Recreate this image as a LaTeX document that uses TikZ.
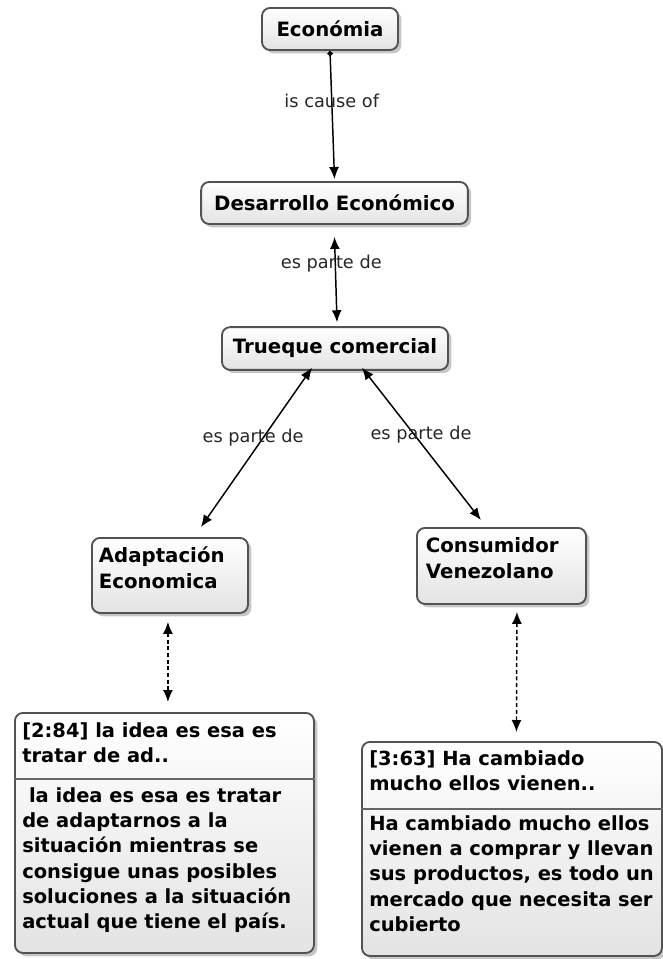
\documentclass[tikz,border=0pt]{standalone}
\usepackage{fontspec}
\setmainfont{DejaVu Sans}
\usetikzlibrary{arrows.meta, shadows}

\begin{document}
\begin{tikzpicture}[x=0.75pt,y=-0.75pt]
  \tikzstyle{concept}=[draw=black!68, line width=1.4pt, rounded corners=6pt,
    top color=white, bottom color=black!11,
    drop shadow={shadow xshift=2.5pt, shadow yshift=-2.5pt, opacity=0.45},
    font=\bfseries\fontsize{14.8}{19}\selectfont]
  \tikzstyle{txt}=[inner sep=0pt, anchor=north west, align=left,
    font=\bfseries\fontsize{14.6}{19}\selectfont]
  \tikzstyle{lbl}=[inner sep=1pt, text=black!85, font=\fontsize{13.3}{16}\selectfont]
  \tikzstyle{link}=[line width=1.1pt, {Latex[length=9pt,width=7.5pt]}-{Latex[length=9pt,width=7.5pt]}]
  \tikzstyle{note}=[link, dash pattern=on 3pt off 2pt]
  \tikzstyle{divider}=[line width=2pt, draw=black!60]

  \useasboundingbox (0,0) rectangle (663,959);

  \node[concept, minimum width=102pt, minimum height=31.5pt]   (economia)   at (330,29)    {Económia};
  \node[concept, minimum width=200pt, minimum height=31.5pt]   (desarrollo) at (334.5,203) {Desarrollo Económico};
  \node[concept, minimum width=169.5pt, minimum height=32pt]   (trueque)    at (335,348.5) {Trueque comercial};
  \node[concept, anchor=north west, align=left, inner xsep=5.25pt, inner ysep=0pt,
        text width=106.5pt, text height=18.75pt, text depth=37.5pt]
                                                                (adaptacion) at (91,537)    {Adaptación\\Economica};
  \node[concept, anchor=north west, align=left, inner xsep=6.75pt, inner ysep=0pt,
        text width=113.25pt, text height=18.75pt, text depth=38.25pt]
                                                                (consumidor) at (416,527)   {Consumidor\\Venezolano};

  % quotations
  \node[concept, anchor=north west, minimum width=224.25pt, minimum height=180pt] (leftq)  at (14,712)  {};
  \node[concept, anchor=north west, minimum width=225pt, minimum height=160.5pt]  (rightq) at (361,741) {};

  \node[txt] (leftqhead) at ([shift={(8,10)}]leftq.north west) {[2:84] la idea es esa es\\tratar de ad..};
  \draw[divider] ([shift={(0,67)}]leftq.north west) -- ([shift={(0,67)}]leftq.north east);
  \node[txt] (leftqbody) at ([shift={(8,75)}]leftq.north west)
    {~la idea es esa es tratar\\de adaptarnos a la\\situación mientras se\\consigue unas posibles\\soluciones a la situación\\actual que tiene el país.};

  \node[txt] (rightqhead) at ([shift={(8,9)}]rightq.north west) {[3:63] Ha cambiado\\mucho ellos vienen..};
  \draw[divider] ([shift={(0,68)}]rightq.north west) -- ([shift={(0,68)}]rightq.north east);
  \node[txt] (rightqbody) at ([shift={(8,74)}]rightq.north west)
    {Ha cambiado mucho ellos\\vienen a comprar y llevan\\sus productos, es todo un\\mercado que necesita ser\\cubierto};

  \path
  (economia.south) edge [link, {Circle[length=4pt]}-{Latex[length=9pt,width=7.5pt]}]
        node[lbl, pos=0.39] {is cause of} ([shift={(0,-2)}]desarrollo.north)
  ([shift={(0,12)}]desarrollo.south) edge [link]
        node[lbl, pos=0.31, xshift=-3pt] {es parte de} ([shift={(2,-4)}]trueque.north)
  ([shift={(-23,-3)}]trueque.south) edge [link]
        node[lbl, pos=0.44, xshift=-7.5pt] {es parte de} ([shift={(31,-10)}]adaptacion.north)
  ([shift={(27,-3)}]trueque.south) edge [link]
        node[lbl, pos=0.44, xshift=5pt] {es parte de} ([shift={(-20.5,-7)}]consumidor.north)
  ([shift={(-2,8)}]adaptacion.south) edge [note] ([shift={(3.5,-10)}]leftq.north)
  ([shift={(15.5,7)}]consumidor.south) edge [note] ([shift={(4.5,-9)}]rightq.north);
\end{tikzpicture}
\end{document}
